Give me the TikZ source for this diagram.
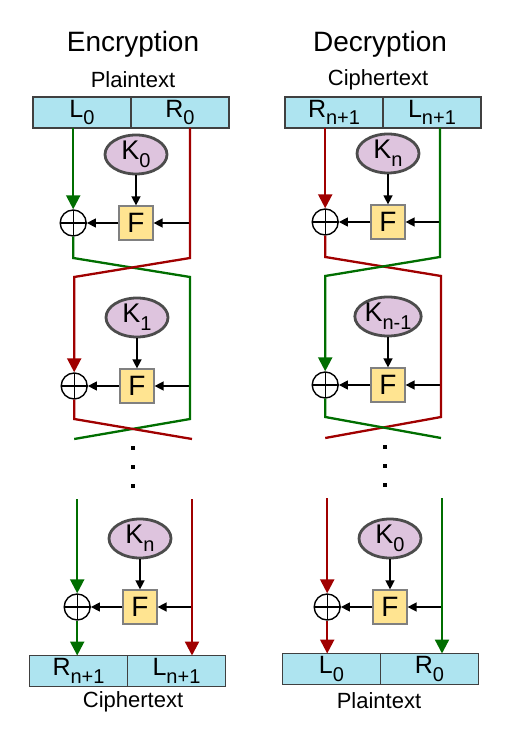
\documentclass[tikz,border=0pt]{standalone}
\usepackage{fontspec}
\setmainfont{Liberation Sans}
\usepackage{xcolor}
\usepackage{tikz}
\usetikzlibrary{shapes.geometric, arrows.meta, positioning}

\definecolor{boxblue}{RGB}{174,228,240}
\definecolor{keypurple}{RGB}{222,196,222}
\definecolor{fyellow}{RGB}{255,228,145}
\definecolor{railgreen}{RGB}{0,110,0}
\definecolor{railred}{RGB}{160,0,0}

\newcommand{\lsub}[1]{\raisebox{-0.3em}{\fontsize{10}{10}\selectfont #1}}

\tikzstyle{half} = [rectangle, draw=black!75, line width=0.75pt, fill=boxblue, minimum width=49pt, minimum height=15.5pt, inner sep=0pt, outer sep=0pt, font=\fontsize{12.5}{14}\selectfont]
\tikzstyle{keynode} = [ellipse, draw=black!70, line width=1.4pt, fill=keypurple, minimum width=31pt, minimum height=19.5pt, inner sep=0pt, font=\fontsize{13.5}{15}\selectfont]
\tikzstyle{func} = [rectangle, draw=black!50, line width=0.6pt, fill=fyellow, minimum size=17pt, inner sep=0pt, font=\fontsize{14}{16}\selectfont]
\tikzstyle{xor} = [circle, draw, line width=0.7pt, minimum size=13pt, inner sep=0pt, path picture={\draw[line width=0.7pt] (path picture bounding box.north) -- (path picture bounding box.south) (path picture bounding box.west) -- (path picture bounding box.east);}]
\tikzstyle{heading} = [font=\fontsize{14}{16}\selectfont]
\tikzstyle{lbl} = [font=\fontsize{11}{13}\selectfont]
\tikzstyle{vdot} = [rectangle, fill=black, minimum size=2pt, inner sep=0pt]
\tikzstyle{arrow} = [line width=0.7pt, -{Triangle[length=4.5pt,width=4.5pt]}]
\tikzstyle{greenrail} = [railgreen, line width=1.15pt]
\tikzstyle{redrail} = [railred, line width=1.15pt]
\tikzstyle{railtip} = [-{Triangle[length=7pt,width=7pt]}]

\begin{document}
\begin{tikzpicture}[x=0.5pt, y=-0.5pt]
    \useasboundingbox (0,0) rectangle (511,747);

    % Headings
    \node (enctitle) [heading] at (133,44) {Encryption};
    \node (dectitle) [heading] at (380,44) {Decryption};

    % Encryption - input and output blocks
    \node (eptxt) [lbl] at (133,80) {Plaintext};
    \node (etl) [half] at (82,112.5) {L\lsub{0}};
    \node (etr) [half, right=0pt of etl] {R\lsub{0}};
    \node (ebl) [half] at (78.5,671) {R\lsub{n+1}};
    \node (ebr) [half, right=0pt of ebl] {L\lsub{n+1}};
    \node (ectxt) [lbl] at (133,702) {Ciphertext};

    % Encryption - rounds
    \node (ef0) [func] at (136,223) {F};
    \node (ek0) [keynode, above=15pt of ef0] {K\lsub{0}};
    \node (ex0) [xor, left=15.75pt of ef0] {};

    \node (ef1) [func] at (137,386) {F};
    \node (ek1) [keynode, above=15pt of ef1] {K\lsub{1}};
    \node (ex1) [xor, left=15.75pt of ef1] {};

    \node (ef2) [func] at (140,607) {F};
    \node (ek2) [keynode, above=15pt of ef2] {K\lsub{n}};
    \node (ex2) [xor, left=15.75pt of ef2] {};

    \foreach \y in {448,467,486}
        \node (edot\y) [vdot] at (133,\y) {};

    % Encryption - rail bends
    \coordinate (er1) at (190,258);
    \coordinate (er2) at (190,277);
    \coordinate (er3) at (190,419);
    \coordinate (er4) at (192,439);
    \coordinate (er5) at (192,499);

    % Decryption - input and output blocks
    \node (dctxt) [lbl] at (378,80) {Ciphertext};
    \node (dtl) [half] at (334,112.5) {R\lsub{n+1}};
    \node (dtr) [half, right=0pt of dtl] {L\lsub{n+1}};
    \node (dbl) [half] at (331.5,669) {L\lsub{0}};
    \node (dbr) [half, right=0pt of dbl] {R\lsub{0}};
    \node (dptxt) [lbl] at (379,701) {Plaintext};

    % Decryption - rounds
    \node (df0) [func] at (388,222) {F};
    \node (dk0) [keynode, above=15pt of df0] {K\lsub{n}};
    \node (dx0) [xor, left=15.75pt of df0] {};

    \node (df1) [func] at (388,385) {F};
    \node (dk1) [keynode, above=15pt of df1] {K\lsub{n-1}};
    \node (dx1) [xor, left=15.75pt of df1] {};

    \node (df2) [func] at (390,607) {F};
    \node (dk2) [keynode, above=15pt of df2] {K\lsub{0}};
    \node (dx2) [xor, left=15.75pt of df2] {};

    \foreach \y in {447,466,485}
        \node (ddot\y) [vdot] at (385,\y) {};

    % Decryption - rail bends
    \coordinate (dr1) at (440,257);
    \coordinate (dr2) at (441,276);
    \coordinate (dr3) at (441,417);
    \coordinate (dr4) at (441,438);
    \coordinate (dr5) at (442,498);

    % Arrows - keys and round functions
    \foreach \s in {e,d}
        \foreach \i in {0,1,2} {
            \draw [arrow] (\s k\i) -- (\s f\i);
            \draw [arrow] (\s f\i) -- (\s x\i);
        }
    \draw [arrow] (er1 |- ef0) -- (ef0);
    \draw [arrow] (er2 |- ef1) -- (ef1);
    \draw [arrow] (er5 |- ef2) -- (ef2);
    \draw [arrow] (dr1 |- df0) -- (df0);
    \draw [arrow] (dr2 |- df1) -- (df1);
    \draw [arrow] (dr5 |- df2) -- (df2);

    % Encryption rails
    \draw [greenrail, railtip] (etl.south -| ex0) -- (ex0.north);
    \draw [greenrail] (ex0.south) -- (ex0 |- er1) -- (er2) -- (er3) -- (ex1 |- er4);
    \draw [redrail, railtip] (etr.south -| er1) -- (er1) -- (ex1 |- er2) -- (ex1.north);
    \draw [redrail] (ex1.south) -- (ex1 |- er3) -- (er4);
    \draw [greenrail, railtip] (ex2 |- er5) -- (ex2.north);
    \draw [greenrail, railtip] (ex2.south) -- (ebl.north -| ex2);
    \draw [redrail, railtip] (er5) -- (ebr.north -| er5);

    % Decryption rails
    \draw [redrail, railtip] (dtl.south -| dx0) -- (dx0.north);
    \draw [redrail] (dx0.south) -- (dx0 |- dr1) -- (dr2) -- (dr3) -- (dx1 |- dr4);
    \draw [greenrail, railtip] (dtr.south -| dr1) -- (dr1) -- (dx1 |- dr2) -- (dx1.north);
    \draw [greenrail] (dx1.south) -- (dx1 |- dr3) -- (dr4);
    \draw [redrail, railtip] (dx2 |- dr5) -- (dx2.north);
    \draw [redrail, railtip] (dx2.south) -- (dbl.north -| dx2);
    \draw [greenrail, railtip] (dr5) -- (dbr.north -| dr5);

\end{tikzpicture}
\end{document}
